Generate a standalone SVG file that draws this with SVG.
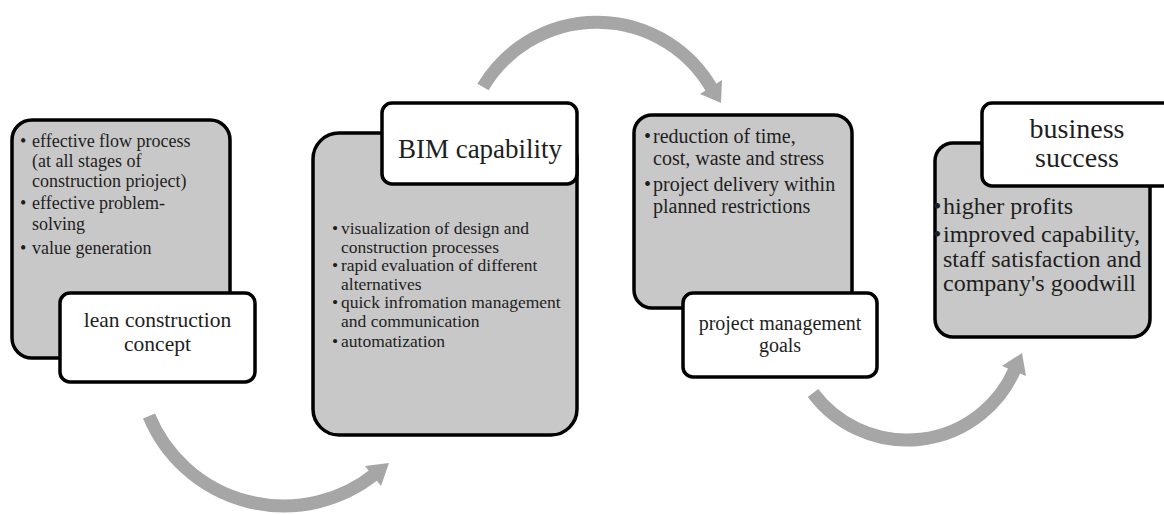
<svg xmlns="http://www.w3.org/2000/svg" width="1164" height="515" viewBox="0 0 1164 515">
<style>
.gray{fill:#c8c8c8;stroke:#000;stroke-width:3.5}
.white{fill:#fff;stroke:#000;stroke-width:3.5}
text{font-family:'Liberation Serif',serif;fill:#1e1e1e}
.c{text-anchor:middle}
.arc{fill:none;stroke:#a6a6a6;stroke-width:13}
.head{fill:#a6a6a6}
</style>
<rect width="1164" height="515" fill="#fff"/>
<g id="connectors">
<path class="arc" d="M149,416 A146,146 0 0 0 375,474"/>
<polygon class="head" points="389,463 381,486 365,466"/>
<path class="arc" d="M483,87 A132.5,132.5 0 0 1 712,89"/>
<polygon class="head" points="721,103 722,80 700,94"/>
<path class="arc" d="M813,393 A117.5,117.5 0 0 0 1015,369"/>
<polygon class="head" points="1022,353 1026,376 1002,366"/>
</g>
<g id="lean">
<rect class="gray" x="12" y="120" width="218" height="238" rx="20"/>
<g font-size="18">
<text x="20" y="147">•</text><text x="32" y="147">effective flow process</text>
<text x="32" y="167">(at all stages of</text>
<text x="32" y="187">construction prioject)</text>
<text x="20" y="209">•</text><text x="32" y="209">effective problem-</text>
<text x="32" y="230">solving</text>
<text x="20" y="254">•</text><text x="32" y="254">value generation</text>
</g>
<rect class="white" x="60" y="293" width="195" height="89" rx="10"/>
<g font-size="21.5">
<text class="c" x="157.5" y="327">lean construction</text>
<text class="c" x="157.5" y="351">concept</text>
</g>
</g>
<g id="bim">
<rect class="gray" x="313" y="133" width="264" height="302" rx="26"/>
<rect class="white" x="382" y="103" width="195" height="81" rx="10"/>
<text class="c" x="480" y="158" font-size="27">BIM capability</text>
<g font-size="17.5">
<text x="332" y="234">•</text><text x="341" y="234">visualization of design and</text>
<text x="341" y="253">construction processes</text>
<text x="332" y="271">•</text><text x="341" y="271">rapid evaluation of different</text>
<text x="341" y="290">alternatives</text>
<text x="332" y="308">•</text><text x="341" y="308">quick infromation management</text>
<text x="341" y="327">and communication</text>
<text x="332" y="347">•</text><text x="341" y="347">automatization</text>
</g>
</g>
<g id="pm">
<rect class="gray" x="634" y="115" width="218" height="193" rx="18"/>
<g font-size="20">
<text x="644" y="143">•</text><text x="653" y="143">reduction of time,</text>
<text x="653" y="165">cost, waste and stress</text>
<text x="644" y="191">•</text><text x="653" y="191">project delivery within</text>
<text x="653" y="213">planned restrictions</text>
</g>
<rect class="white" x="683" y="293" width="194" height="84" rx="10"/>
<g font-size="20">
<text class="c" x="780" y="330">project management</text>
<text class="c" x="780" y="352">goals</text>
</g>
</g>
<g id="business">
<rect class="gray" x="935" y="143" width="215" height="194" rx="18"/>
<rect class="white" x="982" y="103" width="192" height="83" rx="10"/>
<g font-size="28">
<text class="c" x="1077" y="138">business</text>
<text class="c" x="1077" y="167">success</text>
</g>
<g font-size="24">
<text x="933" y="214">•</text><text x="943" y="214">higher profits</text>
<text x="933" y="242">•</text><text x="943" y="242">improved capability,</text>
<text x="943" y="267">staff satisfaction and</text>
<text x="943" y="291">company's goodwill</text>
</g>
</g>
</svg>
